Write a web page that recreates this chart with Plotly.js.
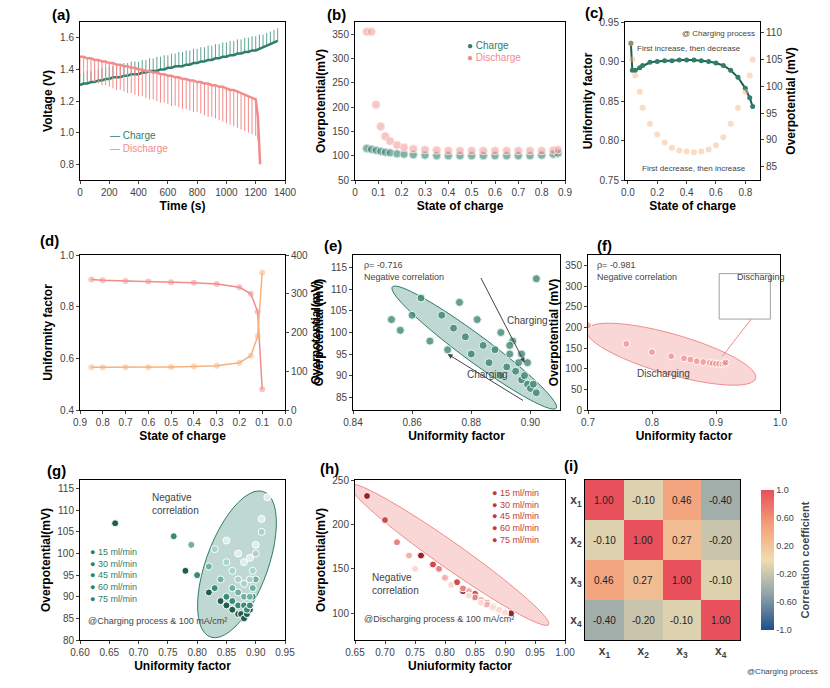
<!DOCTYPE html>
<html><head><meta charset="utf-8">
<script src="https://cdn.plot.ly/plotly-3.0.1.min.js"></script>
<style>body{margin:0;background:#fff}</style></head>
<body><div id="c" style="width:830px;height:688px"></div>
<script>
// (a)
const aTimeC=[0,25,50,75,100,125,150,175,200,225,250,275,300,325,350,375,400,425,450,475,500,525,550,575,600,625,650,675,700,725,750,775,800,825,850,875,900,925,950,975,1000,1025,1050,1075,1100,1125,1150,1175,1200,1225,1250,1275,1300,1325,1350];
const aChargeLow=[1.30,1.31,1.31,1.32,1.32,1.33,1.33,1.34,1.34,1.35,1.35,1.35,1.36,1.36,1.37,1.37,1.37,1.38,1.38,1.39,1.39,1.39,1.40,1.40,1.41,1.41,1.42,1.42,1.42,1.43,1.43,1.44,1.44,1.45,1.45,1.46,1.46,1.47,1.47,1.48,1.48,1.49,1.49,1.50,1.50,1.51,1.51,1.52,1.52,1.53,1.54,1.55,1.56,1.57,1.58];
const aChargeHigh=[1.37,1.38,1.39,1.39,1.40,1.40,1.41,1.41,1.42,1.42,1.43,1.43,1.44,1.44,1.45,1.45,1.45,1.46,1.46,1.47,1.47,1.48,1.48,1.49,1.49,1.50,1.50,1.51,1.51,1.52,1.52,1.53,1.53,1.54,1.54,1.55,1.55,1.56,1.56,1.57,1.57,1.58,1.58,1.59,1.59,1.60,1.60,1.61,1.61,1.62,1.62,1.63,1.64,1.65,1.66];
const aTimeD=[0,25,50,75,100,125,150,175,200,225,250,275,300,325,350,375,400,425,450,475,500,525,550,575,600,625,650,675,700,725,750,775,800,825,850,875,900,925,950,975,1000,1025,1050,1075,1100,1125,1150,1175,1200,1215,1230];
const aDisHigh=[1.48,1.48,1.47,1.47,1.46,1.46,1.45,1.45,1.44,1.44,1.43,1.43,1.42,1.42,1.41,1.41,1.40,1.40,1.39,1.39,1.38,1.38,1.37,1.37,1.36,1.36,1.35,1.35,1.34,1.34,1.33,1.33,1.32,1.32,1.31,1.31,1.30,1.30,1.29,1.29,1.28,1.27,1.27,1.26,1.25,1.24,1.23,1.22,1.21,1.10,0.80];
const aDisLow=[1.36,1.35,1.34,1.33,1.32,1.31,1.30,1.30,1.29,1.28,1.27,1.27,1.26,1.25,1.25,1.24,1.23,1.23,1.22,1.21,1.21,1.20,1.19,1.19,1.18,1.17,1.17,1.16,1.15,1.15,1.14,1.13,1.13,1.12,1.11,1.10,1.10,1.09,1.08,1.07,1.06,1.05,1.04,1.03,1.02,1.01,1.00,0.99,0.98,0.95,0.80];
// (b)
const bSoc=[0.05,0.07,0.09,0.11,0.13,0.15,0.18,0.21,0.25,0.3,0.35,0.4,0.45,0.5,0.55,0.6,0.65,0.7,0.75,0.8,0.85,0.87];
const bCharge=[115,113,111,109,107,106,104,103,102,101,100,100,100,100,100,100,100,100,100,101,103,105];
const bDischarge=[355,355,205,160,140,130,122,117,114,112,111,110,110,110,110,110,110,110,110,110,111,112];
// (c)
const cSoc=[0.02,0.03,0.05,0.08,0.1,0.15,0.2,0.25,0.3,0.35,0.4,0.45,0.5,0.55,0.6,0.65,0.7,0.75,0.8,0.83,0.85];
const cUniform=[0.923,0.889,0.889,0.892,0.895,0.899,0.900,0.901,0.901,0.902,0.902,0.902,0.901,0.900,0.898,0.895,0.889,0.880,0.866,0.854,0.843];
const cOver=[108,105,102,99,96,93,91,89.5,88.5,88,87.8,87.7,87.8,88.2,89,90.5,93,96,99,102,105];
// (d)
const dSoc=[0.85,0.8,0.7,0.6,0.5,0.4,0.3,0.2,0.15,0.12,0.1];
const dUniform=[0.905,0.902,0.899,0.897,0.895,0.893,0.888,0.875,0.85,0.78,0.48];
const dOver=[110,110,110,110,111,112,114,122,140,190,355];
// (e)
const eU=[0.853,0.856,0.860,0.863,0.866,0.870,0.872,0.874,0.876,0.878,0.880,0.882,0.884,0.886,0.888,0.890,0.892,0.893,0.894,0.895,0.896,0.897,0.898,0.899,0.900,0.901,0.902,0.899,0.897,0.893,0.890,0.902];
const eO=[103,100.5,104,108,98,104,96,101,107,99,95,103,97,93,96,100,92,95,98,91,93,89,90,88,87,88,86,93,95,97,90,112.5];
// (f)
const fU=[0.70,0.76,0.80,0.83,0.85,0.86,0.87,0.88,0.89,0.895,0.90,0.905,0.91,0.913,0.915];
const fO=[205,160,140,130,125,122,118,116,114,113,112,112,111,112,115];
// (g)
const gNames=['15 ml/min','30 ml/min','45 ml/min','60 ml/min','75 ml/min'];
const gU=[[0.66,0.78,0.82,0.84,0.85,0.86,0.87,0.875,0.88,0.885,0.89],[0.76,0.80,0.83,0.85,0.86,0.87,0.88,0.885,0.89,0.895],[0.79,0.82,0.84,0.86,0.87,0.88,0.89,0.895,0.90],[0.83,0.85,0.86,0.87,0.88,0.89,0.895,0.90,0.91],[0.85,0.87,0.88,0.89,0.90,0.91,0.92]];
const gO=[[107,96,91,89,88,87,86,86,85,86,87],[104,95,92,90,89,88,88,87,88,90],[102,97,94,92,91,90,90,92,94],[101,98,96,94,93,94,96,100,105],[103,100,98,99,102,108,113]];
// (h)
const hU=[[0.67,0.76,0.80,0.83,0.85,0.87,0.88,0.89,0.90,0.91],[0.70,0.78,0.82,0.85,0.86,0.87,0.88,0.89,0.90],[0.72,0.79,0.83,0.85,0.87,0.88,0.89,0.90],[0.74,0.80,0.84,0.86,0.87,0.88,0.89,0.90],[0.75,0.81,0.84,0.86,0.88,0.89,0.90]];
const hO=[[232,165,140,125,118,110,107,104,102,100],[205,155,135,122,115,110,106,103,101],[180,150,128,118,112,108,104,102],[165,140,125,115,110,106,103,101],[150,132,120,112,107,104,101]];
// (i)
const iLabels=['x<sub>1</sub>','x<sub>2</sub>','x<sub>3</sub>','x<sub>4</sub>'];
const iMatrix=[[1.00,-0.10,0.46,-0.40],[-0.10,1.00,0.27,-0.20],[0.46,0.27,1.00,-0.10],[-0.40,-0.20,-0.10,1.00]];

const F='Liberation Sans, Arial, sans-serif';
const teal='#2f7d6a', pink='#f28b8b', orange='#f7b27a';
const W=830,H=688;
const dx=(a,b)=>[a/W,b/W], dy=(t,b)=>[1-b/H,1-t/H];
const tr=[], sh=[], an=[];
function ax(dom,o){return Object.assign({domain:dom,showline:true,mirror:true,linecolor:'#000',linewidth:1,ticks:'outside',ticklen:3,showgrid:false,zeroline:false,tickfont:{size:10,family:F}},o)}
function tt(t){return {text:t,font:{size:12,family:F,color:'#000',weight:'bold'},standoff:4}}
function ell(c,u,v){let p='';for(let i=0;i<=48;i++){const t=i/48*2*Math.PI;const X=c[0]+u[0]*Math.cos(t)+v[0]*Math.sin(t);const Y=c[1]+u[1]*Math.cos(t)+v[1]*Math.sin(t);p+=(i?' L ':'M ')+X+' '+Y;}return p+' Z';}
const L={width:W,height:H,margin:{l:0,r:0,t:0,b:0},showlegend:false,paper_bgcolor:'#fff',plot_bgcolor:'#fff',font:{family:F}};
const R1=[22,180],R2=[255,410],R3=[480,640];
// a
L.xaxis=ax(dx(80,285),{range:[0,1400],dtick:200,title:tt('Time (s)'),anchor:'y'});
L.yaxis=ax(dy(...R1),{range:[0.7,1.7],dtick:0.2,tickformat:'.1f',title:tt('Voltage (V)'),anchor:'x'});
tr.push({x:aTimeC,y:aChargeLow,xaxis:'x',yaxis:'y',mode:'lines',line:{color:teal,width:2.5},error_y:{type:'data',symmetric:false,array:aChargeHigh.map((v,i)=>v-aChargeLow[i]),arrayminus:aChargeHigh.map(()=>0),color:'#5fa593',width:0,thickness:1}});
tr.push({x:aTimeD,y:aDisHigh,xaxis:'x',yaxis:'y',mode:'lines',line:{color:pink,width:2.5},error_y:{type:'data',symmetric:false,array:aDisHigh.map(()=>0),arrayminus:aDisHigh.map((v,i)=>v-aDisLow[i]),color:pink,width:0,thickness:1}});
// b
L.xaxis2=ax(dx(355,565),{range:[0,0.9],dtick:0.1,title:tt('State of charge'),anchor:'y2'});
L.yaxis2=ax(dy(...R1),{range:[50,375],dtick:50,title:tt('Overpotential(mV)'),anchor:'x2'});
tr.push({x:bSoc,y:bCharge,xaxis:'x2',yaxis:'y2',mode:'markers',marker:{color:'rgba(47,125,106,0.6)',size:8,line:{color:'#cfe6df',width:1}}});
tr.push({x:bSoc,y:bDischarge,xaxis:'x2',yaxis:'y2',mode:'markers',marker:{color:'rgba(242,139,139,0.5)',size:8,line:{color:'#fde0dc',width:1}}});
// c
L.xaxis3=ax(dx(625,760),{range:[-0.02,0.9],dtick:0.2,tickformat:'.1f',title:tt('State of charge'),anchor:'y3'});
L.yaxis3=ax(dy(...R1),{range:[0.75,0.95],dtick:0.05,tickformat:'.2f',title:tt('Uniformity factor'),anchor:'x3'});
L.yaxis4=ax(dy(...R1),{range:[82.5,112],dtick:5,overlaying:'y3',side:'right',mirror:false,anchor:'x3',title:tt('Overpotential (mV)')});
tr.push({x:cSoc,y:cOver,xaxis:'x3',yaxis:'y4',mode:'markers',marker:{color:'rgba(247,178,122,0.45)',size:6}});
tr.push({x:cSoc,y:cUniform,xaxis:'x3',yaxis:'y3',mode:'lines+markers',line:{color:'#1f5e4c',width:2},marker:{color:'#2f7d6a',size:5}});
// d
L.xaxis5=ax(dx(80,285),{range:[0.9,0],dtick:0.1,tickformat:'.1f',title:tt('State of charge'),anchor:'y5'});
L.yaxis5=ax(dy(...R2),{range:[0.4,1.0],dtick:0.2,tickformat:'.1f',title:tt('Uniformity factor'),anchor:'x5'});
L.yaxis6=ax(dy(...R2),{range:[0,400],dtick:100,overlaying:'y5',side:'right',mirror:false,anchor:'x5',title:tt('Overpotential(mV)')});
tr.push({x:dSoc,y:dUniform,xaxis:'x5',yaxis:'y5',mode:'lines+markers',line:{color:pink,width:1.5},marker:{color:'rgba(242,139,139,0.5)',size:6}});
tr.push({x:dSoc,y:dOver,xaxis:'x5',yaxis:'y6',mode:'lines+markers',line:{color:orange,width:1.5},marker:{color:'rgba(247,178,122,0.5)',size:6}});
// e
L.xaxis7=ax(dx(353,560),{range:[0.84,0.91],dtick:0.02,tickformat:'.2f',title:tt('Uniformity factor'),anchor:'y7'});
L.yaxis7=ax(dy(...R2),{range:[82,118],dtick:5,title:tt('Overpotential (mV)'),anchor:'x7'});
sh.push({type:'path',xref:'x7',yref:'y7',path:ell([0.881,96.5],[0.026,-11.5],[-0.010,8.5]),fillcolor:'rgba(47,125,106,0.3)',line:{color:'#2f7d6a',width:1},layer:'below'});
tr.push({x:eU,y:eO,xaxis:'x7',yaxis:'y7',mode:'markers',marker:{color:'rgba(47,125,106,0.75)',size:8,line:{color:'#e8f3ef',width:1}}});
// f
L.xaxis8=ax(dx(588,780),{range:[0.7,1.0],dtick:0.1,tickformat:'.1f',title:tt('Uniformity factor'),anchor:'y8'});
L.yaxis8=ax(dy(...R2),{range:[0,375],dtick:50,title:tt('Overpotential (mV)'),anchor:'x8'});
sh.push({type:'path',xref:'x8',yref:'y8',path:ell([0.83,135],[0.13,-45],[-0.025,60]),fillcolor:'rgba(242,139,139,0.35)',line:{color:'#f28b8b',width:1},layer:'below'});
sh.push({type:'rect',xref:'x8',yref:'y8',x0:0.905,x1:0.985,y0:220,y1:330,fillcolor:'#fff',line:{color:'#888',width:0.8}});
sh.push({type:'line',xref:'x8',yref:'y8',x0:0.91,y0:130,x1:0.955,y1:220,line:{color:'#f28b8b',width:1}});
tr.push({x:fU,y:fO,xaxis:'x8',yaxis:'y8',mode:'markers',marker:{color:'rgba(242,139,139,0.7)',size:7,line:{color:'#fff',width:1}}});
// g
L.xaxis9=ax(dx(80,285),{range:[0.6,0.95],dtick:0.05,tickformat:'.2f',title:tt('Uniformity factor'),anchor:'y9'});
L.yaxis9=ax(dy(...R3),{range:[80,117],dtick:5,title:tt('Overpotential(mV)'),anchor:'x9'});
sh.push({type:'path',xref:'x9',yref:'y9',path:ell([0.868,97.5],[0.05,16.5],[0.045,-4]),fillcolor:'rgba(47,125,106,0.3)',line:{color:'#2f7d6a',width:1},layer:'below'});
const gC=['#1f5e4c','#3b8a76','#6fb0a0','#a8d3c8','#dcefea'];
const hC=['#a31f25','#cf4a4a','#e88383','#f4b0ab','#fbd9d5'];
for(let k=0;k<5;k++){
 tr.push({x:gU[k],y:gO[k],xaxis:'x9',yaxis:'y9',mode:'markers',name:gNames[k],marker:{color:gC[k],size:7,line:{color:'#fff',width:1}}});
}
// h
L.xaxis10=ax(dx(355,565),{range:[0.65,1.0],dtick:0.05,tickformat:'.2f',title:tt('Uniuformity factor'),anchor:'y10'});
L.yaxis10=ax(dy(...R3),{range:[70,250],dtick:50,title:tt('Overpotential(mV)'),anchor:'x10'});
sh.push({type:'path',xref:'x10',yref:'y10',path:ell([0.807,166],[0.16,-70],[-0.045,38]),fillcolor:'rgba(242,139,139,0.35)',line:{color:'#f28b8b',width:1},layer:'below'});
for(let k=0;k<5;k++){
 tr.push({x:hU[k],y:hO[k],xaxis:'x10',yaxis:'y10',mode:'markers',name:gNames[k],marker:{color:hC[k],size:7,line:{color:'#fff',width:1}}});
}
// i
L.xaxis11=ax(dx(585,740),{anchor:'y11',ticks:'',tickfont:{size:12,family:F,weight:'bold'}});
L.yaxis11=ax(dy(...R3),{anchor:'x11',autorange:'reversed',ticks:'',tickfont:{size:12,family:F,weight:'bold'}});
tr.push({type:'heatmap',z:iMatrix,x:iLabels,y:iLabels,xaxis:'x11',yaxis:'y11',zmin:-1,zmax:1,
 colorscale:[[0,'#1f4e8c'],[0.25,'#8ea3a8'],[0.5,'#f1dcb0'],[0.75,'#f2a07a'],[1,'#e8505b']],
 colorbar:{x:0.905,xanchor:'left',y:1-560/H,len:160/H,thickness:13,tickvals:[-1,-0.6,-0.2,0.2,0.6,1],ticktext:['-1.0','-0.60','-0.20','0.20','0.60','1.0'],tickfont:{size:9},outlinewidth:0,title:{text:'Correlation coefficient',side:'right',font:{size:11,weight:'bold'}}}});
for(let r=0;r<4;r++)for(let c=0;c<4;c++)an.push({xref:'x11',yref:'y11',x:iLabels[c],y:iLabels[r],text:iMatrix[r][c].toFixed(2),showarrow:false,font:{size:10,color:'#222'}});

// texts
const T=(x,y,t,o)=>an.push(Object.assign({xref:'paper',yref:'paper',x:x/W,y:1-y/H,text:t,showarrow:false,font:{size:10,family:F,color:'#222'},xanchor:'left',yanchor:'top'},o||{}));
const lab=[['(a)',50,4],['(b)',325,4],['(c)',583,2],['(d)',38,230],['(e)',322,235],['(f)',595,235],['(g)',45,460],['(h)',318,458],['(i)',562,455]];
lab.forEach(l=>T(l[1],l[2],'<b>'+l[0]+'</b>',{font:{size:15,family:F,color:'#000'}}));
T(108,128,'— Charge',{font:{size:10,color:teal}});T(108,141,'— Discharge',{font:{size:10,color:pink}});
T(465,38,'● Charge',{font:{size:10,color:teal}});T(465,50,'● Discharge',{font:{size:10,color:pink}});
T(680,27,'@ Charging process',{font:{size:8}});T(635,42,'First increase, then decrease',{font:{size:8}});
T(640,162,'First decrease, then increase',{font:{size:8}});
T(362,258,'ρ= -0.716<br>Negative correlation',{font:{size:9},align:'left'});
T(505,313,'Charging',{font:{size:10}});T(465,367,'Charging',{font:{size:10}});
T(595,258,'ρ= -0.981<br>Negative correlation',{font:{size:9},align:'left'});
T(635,366,'Discharging',{font:{size:10}});T(735,270,'Discharging',{font:{size:9}});
T(150,490,'Negative<br>correlation',{font:{size:10},align:'left'});
T(88,545,'● 15 ml/min<br>● 30 ml/min<br>● 45 ml/min<br>● 60 ml/min<br>● 75 ml/min',{font:{size:9,color:'#2f7d6a'},align:'left'});
T(86,614,'@Charging process & 100 mA/cm²',{font:{size:9}});
T(370,570,'Negative<br>correlation',{font:{size:10},align:'left'});
T(490,486,'● 15 ml/min<br>● 30 ml/min<br>● 45 ml/min<br>● 60 ml/min<br>● 75 ml/min',{font:{size:9,color:'#c0393b'},align:'left'});
T(362,612,'@Discharging process & 100 mA/cm²',{font:{size:9}});
T(745,665,'@Charging process',{font:{size:8}});
an.push({xref:'x7',yref:'y7',ax:0.883,ay:113,axref:'x7',ayref:'y7',x:0.898,y:93,showarrow:true,arrowhead:2,arrowwidth:1,text:''});
an.push({xref:'x7',yref:'y7',ax:0.898,ay:84,axref:'x7',ayref:'y7',x:0.872,y:95,showarrow:true,arrowhead:2,arrowwidth:1,text:''});
L.shapes=sh;L.annotations=an;
Plotly.newPlot('c',tr,L,{displayModeBar:false,staticPlot:true});
</script></body></html>
